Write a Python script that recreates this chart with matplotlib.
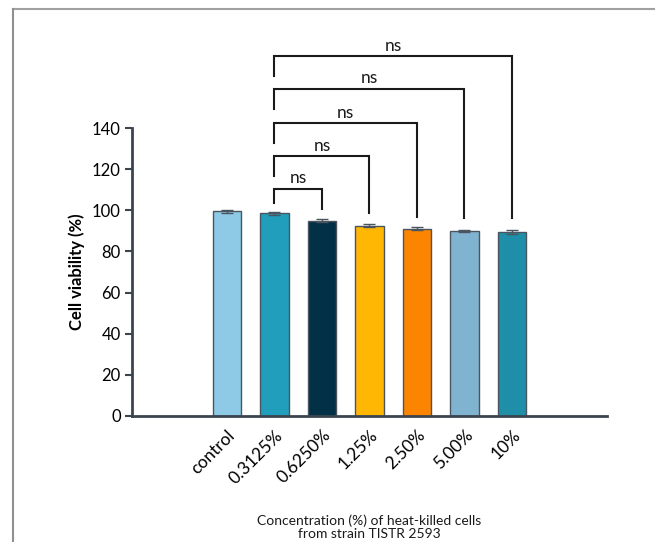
import matplotlib
matplotlib.use("Agg")
import matplotlib.pyplot as plt
from matplotlib.lines import Line2D

plt.rcParams['font.family'] = ['Lato', 'DejaVu Sans']

# data
groups = ['control', '0.3125%', '0.6250%', '1.25%', '2.50%', '5.00%', '10%']
viability = [99.5, 98.5, 95.0, 92.5, 91.0, 90.0, 89.5]
errors = [0.8, 0.9, 0.7, 0.6, 0.7, 0.6, 0.9]
colors = ['#8ecae6', '#219ebc', '#023047', '#ffb703', '#fb8500', '#7fb3d0', '#1f8ea8']

# comparisons vs 0.3125%: (target index, bar height, left leg end, right leg end)
comp_target = [2, 3, 4, 5, 6]
comp_top = [110.4, 126.4, 142.4, 159.0, 175.0]
comp_left = [103.5, 116.7, 132.7, 149.3, 165.3]
comp_right = [100.6, 98.7, 96.7, 96.3, 96.3]
comp_label = ['ns', 'ns', 'ns', 'ns', 'ns']

fig = plt.figure(figsize=(6.55, 5.42), dpi=100)
ax = fig.add_axes([0.2015, 0.2325, 0.7252, 0.5313])

x = list(range(len(groups)))
ax.bar(x, viability, width=0.6, color=colors, edgecolor='#4a5560', linewidth=1.0, zorder=2)
ax.errorbar(x, viability, yerr=errors, fmt='none', ecolor='#4a5560', elinewidth=1.0,
            capsize=4, capthick=1.0, zorder=3)

for t, top, lft, rgt, lab in zip(comp_target, comp_top, comp_left, comp_right, comp_label):
    ax.plot([1, 1, t, t], [lft, top, top, rgt], color='#1a1a1a', linewidth=1.5,
            clip_on=False, solid_joinstyle='miter')
    ax.text((1 + t) / 2, top + 1.2, lab, ha='center', va='bottom', fontsize=12.5,
            color='#1a1a1a', clip_on=False)

ax.set_xlim(-2, 8)
ax.set_ylim(0, 140)
ax.set_yticks(range(0, 141, 20))
ax.set_xticks(x)
ax.set_xticklabels(groups, rotation=45, ha='right', rotation_mode='anchor', fontsize=12.5)
ax.tick_params(axis='x', length=0, pad=8)
ax.tick_params(axis='y', length=5, width=1.5, color='#3a4550', labelsize=12, pad=3)

for s in ['top', 'right']:
    ax.spines[s].set_visible(False)
for s in ['left', 'bottom']:
    ax.spines[s].set_color('#3a4550')
    ax.spines[s].set_linewidth(2)

ax.set_ylabel('Cell viability (%)', fontsize=12, fontweight='bold', labelpad=5)
fig.text(0.564, 0.0275, 'Concentration (%) of heat-killed cells\nfrom strain TISTR 2593',
         ha='center', va='center', fontsize=10, linespacing=1.1, color='#1a1a1a')

# border lines of the original frame
fig.add_artist(Line2D([0.02, 1.0], [0.983, 0.983], color='#a0a0a0', linewidth=1.5,
                      transform=fig.transFigure))
fig.add_artist(Line2D([0.02, 0.02], [0.0, 0.983], color='#909090', linewidth=1.5,
                      transform=fig.transFigure))

fig.savefig('out.png', dpi=100)
